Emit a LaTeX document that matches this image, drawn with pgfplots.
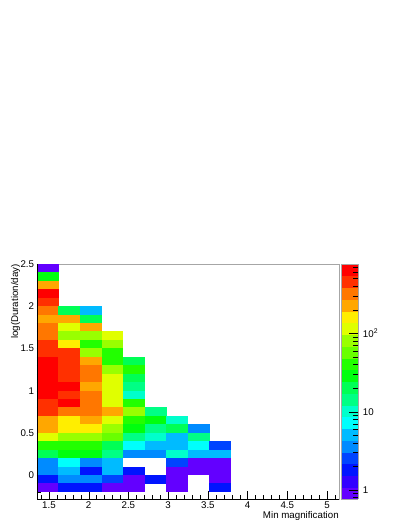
\documentclass[border=0pt]{standalone}
\usepackage{fontspec}
\setmainfont{Liberation Sans}
\usepackage{pgfplots}
\usepackage{pgfplotstable}
\pgfplotsset{compat=1.18}

% one histogram bin, size in pt (axis is 226.5pt x 176.25pt)
\pgfdeclareplotmark{cell}{%
  \pgfpathrectangle{\pgfpoint{-8.17pt}{-3.24pt}}{\pgfpoint{16.34pt}{6.48pt}}%
  \pgfusepathqfill}

% bin centres (min magnification, log duration) and counts
\pgfplotstableread{
x y n
1.4857 2.45 1
1.4857 2.35 30
1.4857 2.25 230
1.4857 2.15 650
1.4857 2.05 460
1.4857 1.95 320
1.7571 1.95 20
2.0286 1.95 5
1.4857 1.85 230
1.7571 1.85 230
2.0286 1.85 20
1.4857 1.75 320
1.7571 1.75 115
2.0286 1.75 230
1.4857 1.65 320
1.7571 1.65 80
2.0286 1.65 80
2.3000 1.65 115
1.4857 1.55 460
1.7571 1.55 165
2.0286 1.55 40
2.3000 1.55 80
1.4857 1.45 460
1.7571 1.45 460
2.0286 1.45 80
2.3000 1.45 40
1.4857 1.35 650
1.7571 1.35 460
2.0286 1.35 230
2.3000 1.35 40
2.5714 1.35 20
1.4857 1.25 650
1.7571 1.25 460
2.0286 1.25 320
2.3000 1.25 80
2.5714 1.25 40
1.4857 1.15 650
1.7571 1.15 460
2.0286 1.15 320
2.3000 1.15 115
2.5714 1.15 20
1.4857 1.05 650
1.7571 1.05 650
2.0286 1.05 230
2.3000 1.05 115
2.5714 1.05 15
1.4857 0.95 650
1.7571 0.95 460
2.0286 0.95 320
2.3000 0.95 115
2.5714 0.95 10
1.4857 0.85 460
1.7571 0.85 650
2.0286 0.85 320
2.3000 0.85 115
2.5714 0.85 40
1.4857 0.75 460
1.7571 0.75 320
2.0286 0.75 320
2.3000 0.75 230
2.5714 0.75 80
2.8429 0.75 15
1.4857 0.65 230
1.7571 0.65 165
2.0286 0.65 230
2.3000 0.65 115
2.5714 0.65 40
2.8429 0.65 30
3.1143 0.65 10
1.4857 0.55 230
1.7571 0.55 165
2.0286 0.55 165
2.3000 0.55 80
2.5714 0.55 30
2.8429 0.55 15
3.1143 0.55 20
3.3857 0.55 4
1.4857 0.45 115
1.7571 0.45 80
2.0286 0.45 80
2.3000 0.45 58
2.5714 0.45 15
2.8429 0.45 10
3.1143 0.45 5
3.3857 0.45 15
1.4857 0.35 40
1.7571 0.35 40
2.0286 0.35 40
2.3000 0.35 20
2.5714 0.35 7
2.8429 0.35 5
3.1143 0.35 5
3.3857 0.35 7
3.6571 0.35 3
1.4857 0.25 20
1.7571 0.25 30
2.0286 0.25 30
2.3000 0.25 15
2.5714 0.25 4
2.8429 0.25 4
3.1143 0.25 10
3.3857 0.25 5
3.6571 0.25 5
1.4857 0.15 4
1.7571 0.15 7
2.0286 0.15 4
2.3000 0.15 5
3.1143 0.15 3
3.3857 0.15 1
3.6571 0.15 1
1.4857 0.05 4
1.7571 0.05 5
2.0286 0.05 2
2.3000 0.05 5
2.5714 0.05 2
3.1143 0.05 1
3.3857 0.05 1
3.6571 0.05 1
1.4857 -0.05 2
1.7571 -0.05 4
2.0286 -0.05 4
2.3000 -0.05 3
2.5714 -0.05 1
2.8429 -0.05 2
3.1143 -0.05 1
3.6571 -0.05 1
1.4857 -0.15 1
1.7571 -0.15 2
2.0286 -0.15 2
2.3000 -0.15 1
2.5714 -0.15 1
3.1143 -0.15 1
3.6571 -0.15 2
}\cells

\begin{document}
\begin{tikzpicture}
\path (-27.75pt,-21pt) rectangle (277.5pt,374.25pt);
\begin{axis}[
  at={(0,0)}, anchor=south west,
  scale only axis, width=226.5pt, height=176.25pt,
  xmin=1.35, xmax=5.15, ymin=-0.283, ymax=2.5,
  clip=false,
  axis line style={gray!70},
  xtick={1.5,2,2.5,3,3.5,4,4.5,5},
  minor xtick={1.4,1.5,...,5.1},
  ytick={0,0.5,1,1.5,2,2.5},
  minor ytick={-0.2,-0.1,...,2.5},
  xtick pos=left, ytick pos=left,
  tick align=inside,
  tick style={black},
  major tick length=6pt, minor tick length=3pt,
  /pgf/number format/assume math mode=true,
  tick label style={font=\fontsize{7.3}{8.5}\selectfont, inner sep=0pt},
  xticklabel shift=2pt, yticklabel shift=2pt,
  label style={font=\fontsize{7.3}{8.5}\selectfont, inner sep=0pt},
  xlabel={Min magnification},
  xlabel style={at={(rel axis cs:1,0)}, anchor=north east, yshift=-9.5pt},
  ylabel={log(Duration/day)},
  ylabel style={at={(rel axis cs:-0.055,1)}, anchor=south east},
  colormap={rootpal}{
    rgb255=(99,0,255) rgb255=(51,0,255) rgb255=(0,20,255) rgb255=(0,68,255)
    rgb255=(0,139,255) rgb255=(0,187,255) rgb255=(0,255,252) rgb255=(0,255,204)
    rgb255=(0,255,133) rgb255=(0,255,85) rgb255=(0,255,14) rgb255=(34,255,0)
    rgb255=(105,255,0) rgb255=(153,255,0) rgb255=(224,255,0) rgb255=(255,238,0)
    rgb255=(255,167,0) rgb255=(255,119,0) rgb255=(255,48,0) rgb255=(255,0,0)},
  colormap access=piecewise constant,
  point meta min=-0.115, point meta max=2.885,
  colorbar,
  colorbar style={
    at={(parent axis.north east)}, anchor=north west, xshift=-7.04pt,
    width=12.75pt,
    axis line style={gray!70},
    ytick={0,1,2},
    yticklabels={1,10,10\textsuperscript{2}},
    minor ytick={-0.097,-0.046,0.301,0.477,0.602,0.699,0.778,0.845,0.903,0.954,
      1.301,1.477,1.602,1.699,1.778,1.845,1.903,1.954,
      2.301,2.477,2.602,2.699,2.778,2.845},
    ytick pos=right, yticklabel pos=right,
    tick align=inside, tick style={black},
    major tick length=7pt, minor tick length=3.5pt,
    tick label style={font=\fontsize{7.3}{8.5}\selectfont, inner sep=0pt},
    yticklabel shift=3.5pt,
  },
  after end axis/.code={
    \draw[black] (rel axis cs:0,1) -- (rel axis cs:0,0) -- (rel axis cs:1,0);
  },
]
\addplot[scatter, only marks, mark=cell,
  point meta={log10(\thisrow{n})}] table[x=x, y=y] {\cells};
\end{axis}
\end{tikzpicture}
\end{document}
